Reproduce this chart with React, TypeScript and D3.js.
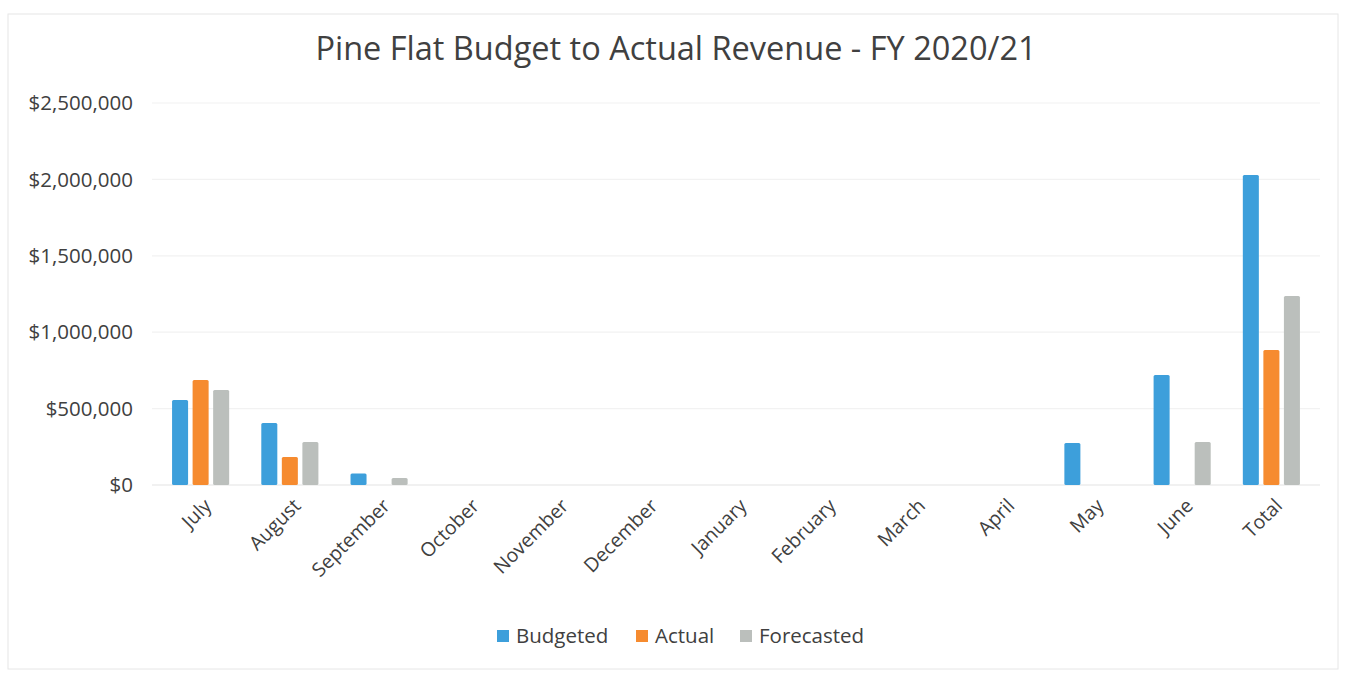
import { useEffect, useRef } from "react";
import * as d3 from "d3";

const months = [
  "July", "August", "September", "October", "November", "December",
  "January", "February", "March", "April", "May", "June", "Total",
];
const seriesNames = ["Budgeted", "Actual", "Forecasted"];
const seriesColors = ["#3d9fdb", "#f68b2f", "#bbbfbc"];
const budgeted = [556000, 406000, 75000, 0, 0, 0, 0, 0, 0, 0, 275000, 720000, 2029000];
const actual = [687000, 183000, 0, 0, 0, 0, 0, 0, 0, 0, 0, 0, 883000];
const forecasted = [622000, 281000, 45000, 0, 0, 0, 0, 0, 0, 0, 0, 281000, 1237000];
const yTicks = [0, 500000, 1000000, 1500000, 2000000, 2500000];

const W = 1346;
const H = 675;
const FONT = "'Open Sans', 'Noto Sans', sans-serif";

export default function App() {
  const svgRef = useRef<SVGSVGElement>(null);

  useEffect(() => {
    const svgEl = svgRef.current;
    if (!svgEl) return;
    const root = d3.select(svgEl);
    root.selectAll("*").remove();

    const margin = { top: 103, right: 30, bottom: 190, left: 156 };
    const innerW = W - margin.left - margin.right;
    const innerH = H - margin.top - margin.bottom;

    root.append("rect")
      .attr("x", 8).attr("y", 14).attr("width", W - 16).attr("height", H - 20)
      .attr("fill", "#fff").attr("stroke", "#e6e6e6");

    root.append("text")
      .attr("x", 676).attr("y", 60)
      .attr("text-anchor", "middle")
      .attr("font-family", FONT).attr("font-size", 32.5)
      .attr("fill", "#404040")
      .text("Pine Flat Budget to Actual Revenue - FY 2020/21");

    const g = root.append("g").attr("transform", `translate(${margin.left},${margin.top})`);

    const x0 = d3.scaleBand<string>().domain(months).range([0, innerW]).paddingInner(0.36).paddingOuter(0.18);
    const x1 = d3.scaleBand<string>().domain(seriesNames).range([0, x0.bandwidth()]).paddingInner(0.22);
    const y = d3.scaleLinear().domain([0, 2500000]).range([innerH, 0]);

    g.selectAll("line.grid")
      .data(yTicks)
      .join("line")
      .attr("class", "grid")
      .attr("x1", -4).attr("x2", innerW + 4)
      .attr("y1", (d) => y(d)).attr("y2", (d) => y(d))
      .attr("stroke", (d) => (d === 0 ? "#e4e4e4" : "#f2f2f2"))
      .attr("stroke-width", 1.2);

    g.selectAll("text.ytick")
      .data(yTicks)
      .join("text")
      .attr("class", "ytick")
      .attr("x", -23).attr("y", (d) => y(d))
      .attr("dy", "0.35em")
      .attr("text-anchor", "end")
      .attr("font-family", FONT).attr("font-size", 20.5)
      .attr("fill", "#404040")
      .text((d) => "$" + d3.format(",")(d));

    const data = [budgeted, actual, forecasted];
    data.forEach((vals, si) => {
      g.append("g")
        .selectAll("rect")
        .data(vals.map((v, i) => ({ v, m: months[i] })).filter((d) => d.v > 0))
        .join("rect")
        .attr("x", (d) => (x0(d.m) ?? 0) + (x1(seriesNames[si]) ?? 0))
        .attr("y", (d) => y(d.v))
        .attr("width", x1.bandwidth())
        .attr("height", (d) => innerH - y(d.v))
        .attr("rx", 1.5)
        .attr("fill", seriesColors[si]);
    });

    g.selectAll("text.xtick")
      .data(months)
      .join("text")
      .attr("class", "xtick")
      .attr("transform", (d) => `translate(${(x0(d) ?? 0) + x0.bandwidth() / 2 + 12},${innerH + 22}) rotate(-45)`)
      .attr("text-anchor", "end")
      .attr("font-family", FONT).attr("font-size", 19.5)
      .attr("fill", "#404040")
      .text((d) => d);

    const legend = root.append("g").attr("transform", `translate(497,636)`);
    const legendX = [0, 139, 243];
    seriesNames.forEach((name, i) => {
      const lg = legend.append("g").attr("transform", `translate(${legendX[i]},0)`);
      lg.append("rect").attr("x", 0).attr("y", -6).attr("width", 12).attr("height", 12).attr("fill", seriesColors[i]);
      lg.append("text")
        .attr("x", 19).attr("y", 0).attr("dy", "0.35em")
        .attr("font-family", FONT).attr("font-size", 20.5)
        .attr("fill", "#404040")
        .text(name);
    });
  }, []);

  return (
    <div>
      <style>{`body{margin:0}`}</style>
      <svg ref={svgRef} width={W} height={H} style={{ display: "block", background: "#fff" }} />
    </div>
  );
}
